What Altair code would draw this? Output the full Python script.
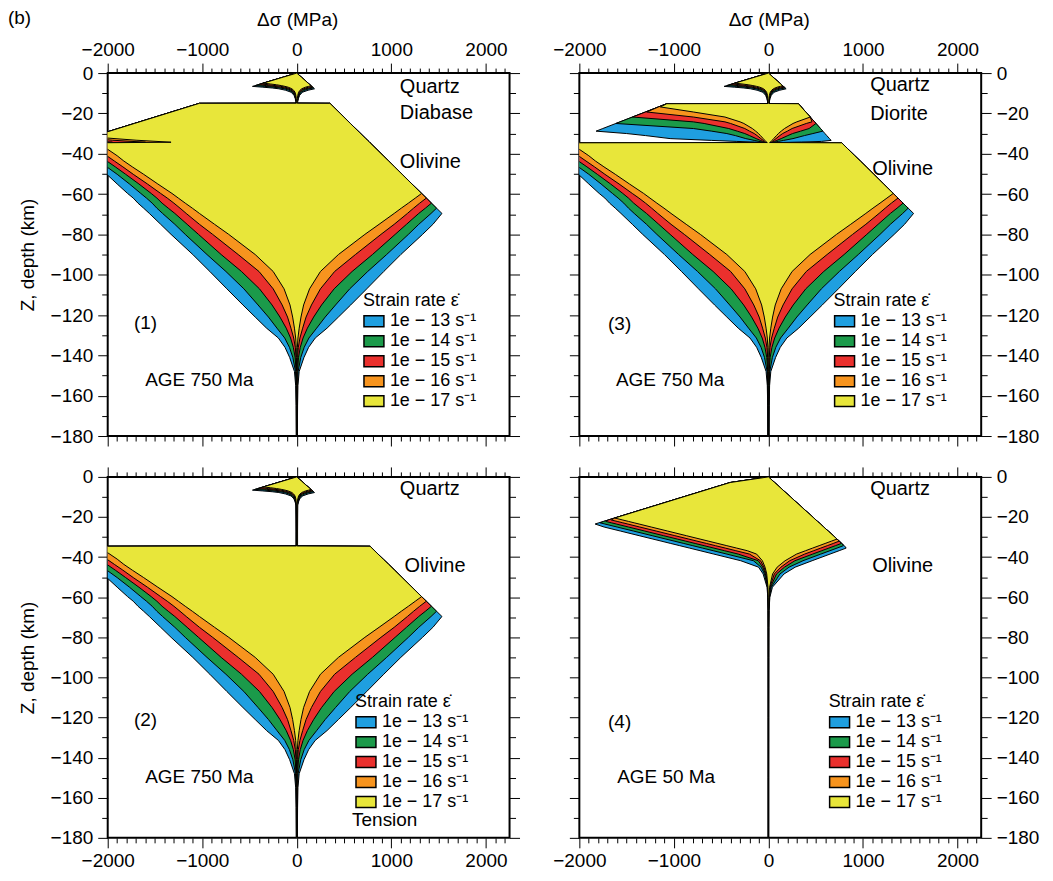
import altair as alt
import pandas as pd

FONT = "Liberation Sans"

RATES = ["1e − 13 s⁻¹", "1e − 14 s⁻¹", "1e − 15 s⁻¹", "1e − 16 s⁻¹", "1e − 17 s⁻¹"]
COLORS = ["#1f9fe0", "#1b9a4a", "#ea302d", "#f7941e", "#e8e63a"]

# ---------------- quartz upper crust, 750 Ma (panels 1-3) ----------------
Q_Z = [0, -2, -4, -5.0, -5.4, -5.8, -6.2, -6.6, -7.0, -7.4, -7.8, -8.5, -9.5, -11, -12.5, -14]
Q_LEFT = [
    [0, -142, -284, -355, -383, -412, -440, -469, -360, -260, -190, -120, -60, -30, -18, -10],
    [0, -142, -284, -355, -383, -412, -440, -340, -250, -180, -130, -85, -45, -24, -14, -8],
    [0, -142, -284, -355, -383, -412, -320, -240, -175, -130, -95, -60, -33, -18, -11, -6],
    [0, -142, -284, -355, -383, -300, -230, -170, -125, -95, -70, -45, -25, -14, -8, -5],
    [0, -142, -284, -355, -280, -215, -165, -125, -92, -70, -52, -34, -19, -10, -6, -4]]
Q_RIGHT = [
    [0, 48, 96, 120, 130, 139, 149, 158, 168, 178, 187, 120, 60, 30, 18, 10],
    [0, 48, 96, 120, 130, 139, 149, 158, 168, 178, 130, 85, 45, 24, 14, 8],
    [0, 48, 96, 120, 130, 139, 149, 158, 168, 130, 95, 60, 33, 18, 11, 6],
    [0, 48, 96, 120, 130, 139, 149, 158, 125, 95, 70, 45, 25, 14, 8, 5],
    [0, 48, 96, 120, 130, 139, 149, 125, 92, 70, 52, 34, 19, 10, 6, 4]]

# ---------------- diabase lower crust (panel 1) ----------------
D1_Z = [-14.95, -15, -20, -25, -29.6, -32.2, -33.3, -34.3]
D1_LEFT = [
    [-8, -1030, -1374, -1718, -2034, -2212, -2288, -2356],
    [-7, -1030, -1374, -1718, -2034, -2212, -2288, -2300],
    [-6, -1030, -1374, -1718, -2034, -2212, -2250, -1950],
    [-5, -1030, -1374, -1718, -2034, -2212, -1950, -1600],
    [-4, -1030, -1374, -1718, -2034, -2010, -1700, -1330]]
D1_RIGHT = [
    [8, 350, 459, 567, 667, 723, 747, 769],
    [7, 350, 459, 567, 667, 723, 747, 769],
    [6, 350, 459, 567, 667, 723, 747, 769],
    [5, 350, 459, 567, 667, 723, 747, 769],
    [4, 350, 459, 567, 667, 723, 747, 769]]

# ---------------- quartz-only crust stem (panel 2) ----------------
S2_Z = [-20, -27, -34.45]
S2_LEFT = [[-9, -8, -8], [-7, -6, -6], [-5, -5, -5], [-4, -4, -4], [-3, -3, -3]]
S2_RIGHT = [[9, 8, 8], [7, 6, 6], [5, 5, 5], [4, 4, 4], [3, 3, 3]]

# ---------------- diorite lower crust (panel 3) ----------------
C3_Z = [-15.1, -15.2, -16.8, -19.3, -21.8, -24.2, -25, -27.5, -28.8, -30, -31, -32.5, -33.4, -33.9, -34.2, -34.45]
C3_LEFT = [
    [-8, -1075, -1163, -1300, -1438, -1570, -1614, -1752, -1823, -1500, -1300, -1040, -600, -334, -150, -60],
    [-7, -1075, -1163, -1300, -1438, -1570, -1614, -794, -600, -440, -350, -240, -150, -100, -65, -40],
    [-6, -1075, -1163, -1300, -1438, -794, -680, -420, -330, -250, -200, -130, -85, -60, -40, -25],
    [-5, -1075, -1163, -1287, -794, -460, -400, -250, -200, -150, -120, -80, -55, -40, -28, -18],
    [-4, -1075, -1143, -794, -460, -300, -260, -170, -135, -105, -85, -55, -38, -28, -20, -12]]
C3_RIGHT = [
    [8, 317, 347, 395, 442, 488, 503, 551, 575, 598, 617, 646, 663, 560, 350, 120],
    [7, 317, 347, 395, 442, 488, 503, 551, 575, 470, 380, 260, 160, 105, 68, 40],
    [6, 317, 347, 395, 442, 488, 503, 430, 340, 255, 205, 135, 88, 62, 42, 25],
    [5, 317, 347, 395, 442, 460, 400, 250, 200, 150, 120, 80, 55, 40, 28, 18],
    [4, 317, 347, 395, 442, 300, 260, 170, 135, 105, 85, 55, 38, 28, 20, 12]]

# ---------------- olivine mantle, 750 Ma (panels 1-3) ----------------
M_Z = [-34.6, -37.5, -41, -43.6, -46.5, -50.2, -55, -59.7, -62, -64.5, -67, -69.6, -75, -80, -90,
       -98.4, -107, -115, -121, -126.5, -131.4, -136, -141, -148, -155, -165, -180]
M_LEFT = [
    [-2377, -2420, -2300, -2210, -2110, -2010, -1900, -1790, -1730, -1680, -1620, -1560, -1440, -1330, -1100,
     -920, -740, -570, -440, -320, -195, -125, -76, -25, -12, -8, -6],
    [-2377, -2320, -2200, -2100, -2010, -1900, -1770, -1650, -1590, -1530, -1480, -1420, -1290, -1180, -950,
     -750, -560, -410, -300, -210, -128, -78, -42, -14, -7, -5, -4],
    [-2330, -2220, -2100, -2010, -1920, -1810, -1670, -1540, -1480, -1425, -1360, -1290, -1160, -1040, -800,
     -585, -395, -262, -178, -112, -66, -37, -18, -7, -4, -3, -3],
    [-2250, -2120, -2010, -1930, -1840, -1730, -1580, -1440, -1370, -1300, -1235, -1170, -1030, -890, -620,
     -400, -250, -155, -98, -62, -33, -16, -8, -4, -3, -2.5, -2.5],
    [-2150, -2010, -1900, -1830, -1740, -1620, -1470, -1320, -1253, -1180, -1105, -1030, -870, -720, -440,
     -250, -135, -72, -44, -25, -12, -6, -4, -3, -2.5, -2, -2]]
M_RIGHT = [
    [775, 838, 914, 971, 1034, 1114, 1218, 1320, 1370, 1424, 1478, 1535, 1440, 1330, 1100,
     920, 740, 570, 440, 320, 195, 125, 76, 25, 12, 8, 6],
    [775, 838, 914, 971, 1034, 1114, 1218, 1320, 1370, 1424, 1478, 1420, 1290, 1180, 950,
     750, 560, 410, 300, 210, 128, 78, 42, 14, 7, 5, 4],
    [775, 838, 914, 971, 1034, 1114, 1218, 1320, 1370, 1424, 1360, 1290, 1160, 1040, 800,
     585, 395, 262, 178, 112, 66, 37, 18, 7, 4, 3, 3],
    [775, 838, 914, 971, 1034, 1114, 1218, 1320, 1370, 1300, 1235, 1170, 1030, 890, 620,
     400, 250, 155, 98, 62, 33, 16, 8, 4, 3, 2.5, 2.5],
    [775, 838, 914, 971, 1034, 1114, 1218, 1320, 1253, 1180, 1105, 1030, 870, 720, 440,
     250, 135, 72, 44, 25, 12, 6, 4, 3, 2.5, 2, 2]]

# ---------------- whole column, 50 Ma (panel 4) ----------------
P4_Z = [0, -2.8, -10, -20.5, -21.5, -22.2, -22.9, -23.5, -25, -27, -29.3, -31, -32, -33.2, -34.3, -35.5,
        -36.8, -38.5, -41.8, -45, -48.4, -55, -60, -66.6, -75, -90, -120, -150, -180]
P4_LEFT = [
    [0, -405, -902, -1626, -1695, -1744, -1794, -1833, -1738, -1566, -1368, -1222, -1136, -1033, -938, -835,
     -723, -577, -293, -105, -56, -15, -7, -3.5, -3.2, -3, -3, -3, -3],
    [0, -405, -902, -1626, -1695, -1744, -1780, -1730, -1600, -1428, -1230, -1084, -998, -895, -800, -697,
     -585, -439, -159, -78, -42, -11, -5.5, -3, -2.5, -2.2, -2, -2, -2],
    [0, -405, -902, -1626, -1695, -1720, -1661, -1609, -1480, -1308, -1110, -964, -878, -775, -680, -577,
     -465, -319, -108, -60, -32, -8.5, -4.5, -2.6, -2.2, -1.8, -1.5, -1.5, -1.5],
    [0, -405, -902, -1626, -1661, -1600, -1540, -1488, -1360, -1187, -990, -843, -757, -654, -560, -456,
     -345, -200, -84, -47, -25, -6.5, -3.5, -2.2, -1.8, -1.5, -1.2, -1.2, -1.2],
    [0, -405, -902, -1626, -1540, -1480, -1420, -1368, -1239, -1067, -869, -723, -637, -534, -440, -336,
     -224, -125, -64, -36, -18, -5, -3, -2, -1.5, -1.2, -1, -1, -1]]
P4_RIGHT = [
    [0, 66, 234, 480, 503, 519, 536, 550, 585, 632, 686, 725, 749, 777, 803, 822,
     748, 651, 462, 283, 165, 42, 15, 6, 4, 3.5, 3, 3, 3],
    [0, 66, 234, 480, 503, 519, 536, 550, 585, 632, 686, 725, 749, 777, 793, 725,
     651, 553, 365, 218, 122, 30, 11, 4.5, 3, 2.5, 2, 1.8, 1.8],
    [0, 66, 234, 480, 503, 519, 536, 550, 585, 632, 686, 725, 749, 771, 708, 639,
     564, 467, 280, 170, 85, 22, 8, 3.5, 2.5, 2, 1.6, 1.4, 1.4],
    [0, 66, 234, 480, 503, 519, 536, 550, 585, 632, 686, 725, 749, 685, 622, 553,
     479, 382, 225, 132, 62, 15, 6, 3, 2.2, 1.7, 1.4, 1.2, 1.2],
    [0, 66, 234, 480, 503, 519, 536, 550, 585, 632, 686, 725, 668, 599, 536, 467,
     393, 297, 176, 92, 44, 12, 5, 2.5, 2, 1.5, 1.2, 1, 1]]

# ---------------- annotations (data units) ----------------
ANN1 = {"t": ["Quartz", "Diabase", "Olivine"], "x": [1090, 1090, 1090], "y": [-6.9, -19.6, -44]}
ANN2 = {"t": ["Quartz", "Olivine"], "x": [1090, 1140], "y": [-6, -44.3]}
ANN3 = {"t": ["Quartz", "Diorite", "Olivine"], "x": [1076, 1076, 1097], "y": [-5.9, -20.3, -47.5]}
ANN4 = {"t": ["Quartz", "Olivine"], "x": [1076, 1097], "y": [-6, -44.3]}
CEN1 = {"t": ["(1)", "AGE 750 Ma"], "x": [-1600, -1030], "y": [-124, -152.3]}
CEN2 = {"t": ["(2)", "AGE 750 Ma", "Tension"], "x": [-1600, -1030, 930], "y": [-121.3, -149.7, -171.3]}
CEN3 = {"t": ["(3)", "AGE 750 Ma"], "x": [-1574, -1040], "y": [-124.6, -152]}
CEN4 = {"t": ["(4)", "AGE 50 Ma"], "x": [-1574, -1082], "y": [-122.3, -149.7]}

XTICKS = list(range(-2000, 2201, 100))
YTICKS = list(range(-180, 1, 10))
XMIN, XMAX = -2000, 2250
W = 403

xs = alt.Scale(domain=[XMIN, XMAX], nice=False, zero=False)
ys = alt.Scale(domain=[-180, 0], nice=False, zero=False)
cs = alt.Scale(domain=RATES, range=COLORS)


def build(blocks):
    frames = []
    for i, rate in enumerate(RATES):
        z, lo, hi = [], [], []
        for bz, bl, br in blocks:
            z += list(bz)
            lo += list(bl[i])
            hi += list(br[i])
        frames.append(pd.DataFrame({"z": z, "lo": lo, "hi": hi, "rate": rate}))
    return frames


def xaxis(orient, labeled, title=False):
    kw = dict(orient=orient, values=XTICKS, domain=False, grid=False,
              tickSize={"condition": {"test": "datum.value % 1000 === 0", "value": 10}, "value": 5},
              tickColor="black", tickWidth=1)
    if labeled:
        kw.update(labelExpr="datum.value % 1000 === 0 ? datum.label : ''", format="d",
                  labelFont=FONT, labelFontSize=19, labelColor="black", labelPadding=4,
                  labelOverlap=False, labelFlush=False)
    else:
        kw.update(labels=False)
    if title:
        kw.update(title="Δσ (MPa)", titleFont=FONT, titleFontSize=19, titleFontWeight="normal",
                  titleColor="black", titleX=190, titleY=-54, titleAlign="center",
                  titleBaseline="middle", titleAngle=0)
    else:
        kw.update(title=None)
    return alt.Axis(**kw)


def yaxis(orient, labeled, h, title=False):
    kw = dict(orient=orient, values=YTICKS, domain=False, grid=False,
              tickSize={"condition": {"test": "datum.value % 20 === 0", "value": 10}, "value": 6},
              tickColor="black", tickWidth=1)
    if labeled:
        kw.update(labelExpr="datum.value % 20 === 0 ? datum.label : ''", format="d",
                  labelFont=FONT, labelFontSize=19, labelColor="black", labelPadding=5,
                  labelOverlap=False, labelFlush=False)
    else:
        kw.update(labels=False)
    if title:
        kw.update(title="Z, depth (km)", titleFont=FONT, titleFontSize=19, titleFontWeight="normal",
                  titleColor="black", titleX=-80, titleY=h / 2, titleAlign="center",
                  titleBaseline="middle", titleAngle=270)
    else:
        kw.update(title=None)
    return alt.Axis(**kw)


def panel(blocks, ann_left, ann_center, legend_xy, top, left, h):
    leg = alt.Legend(title="Strain rate ε̇", orient="none", legendX=legend_xy[0], legendY=legend_xy[1],
                     titleFont=FONT, titleFontSize=18, titleFontWeight="normal", titleColor="black",
                     titlePadding=0, labelFont=FONT, labelFontSize=18, labelColor="black",
                     labelOffset=5, labelLimit=300, symbolType="M-1,-0.55H1V0.55H-1Z", symbolSize=400,
                     symbolStrokeColor="black", symbolStrokeWidth=1.5, symbolOpacity=1,
                     rowPadding=-0.4, padding=0, direction="vertical")
    layers = []
    for df in build(blocks):
        layers.append(
            alt.Chart(df).mark_area(orient="horizontal", stroke="black", strokeWidth=1, clip=True,
                                    opacity=1, interpolate="linear").encode(
                y=alt.Y("z:Q", scale=ys, axis=None),
                x=alt.X("lo:Q", scale=xs, axis=None),
                x2="hi:Q",
                color=alt.Color("rate:N", scale=cs, legend=leg),
            ))
    tl = alt.Chart(pd.DataFrame(ann_left)).mark_text(font=FONT, fontSize=20, align="left",
                                                      baseline="middle", color="black").encode(
        x=alt.X("x:Q", scale=xs, axis=None), y=alt.Y("y:Q", scale=ys, axis=None), text="t:N")
    tc = alt.Chart(pd.DataFrame(ann_center)).mark_text(font=FONT, fontSize=19, align="center",
                                                        baseline="middle", color="black").encode(
        x=alt.X("x:Q", scale=xs, axis=None), y=alt.Y("y:Q", scale=ys, axis=None), text="t:N")
    base = alt.Chart(pd.DataFrame({"x": [0.0], "y": [-90.0]})).mark_point(opacity=0)
    ax1 = base.encode(
        x=alt.X("x:Q", scale=xs, axis=xaxis("top", top, title=top)),
        y=alt.Y("y:Q", scale=ys, axis=yaxis("left", left, h, title=left)))
    ax2 = base.encode(
        x=alt.X("x:Q", scale=xs, axis=xaxis("bottom", not top)),
        y=alt.Y("y:Q", scale=ys, axis=yaxis("right", not left, h)))
    return alt.layer(*layers, tl, tc, ax1, ax2).resolve_axis(
        x="independent", y="independent").properties(width=W, height=h)


p1 = panel([(Q_Z, Q_LEFT, Q_RIGHT), (D1_Z, D1_LEFT, D1_RIGHT), (M_Z, M_LEFT, M_RIGHT)],
           ANN1, CEN1, (256, 220), True, True, 364)
p3 = panel([(Q_Z, Q_LEFT, Q_RIGHT), (C3_Z, C3_LEFT, C3_RIGHT), (M_Z, M_LEFT, M_RIGHT)],
           ANN3, CEN3, (255, 220), True, False, 364)
p2 = panel([(Q_Z, Q_LEFT, Q_RIGHT), (S2_Z, S2_LEFT, S2_RIGHT), (M_Z, M_LEFT, M_RIGHT)],
           ANN2, CEN2, (248, 217), False, True, 362)
p4 = panel([(P4_Z, P4_LEFT, P4_RIGHT)], ANN4, CEN4, (250, 217), False, False, 362)

chart = alt.concat(p1, p3, p2, p4, columns=2, spacing={"row": 41, "column": 70}, bounds="flush",
                   title=alt.TitleParams(text="(b)", anchor="start", frame="bounds", font=FONT,
                                         fontSize=19, fontWeight="normal", color="black",
                                         offset=-19, dx=-10)
                   ).resolve_legend(color="independent").properties(
    padding={"left": 0, "top": 0, "right": 5, "bottom": 5}
).configure_view(stroke="black", strokeWidth=2)

chart.save("out.html", embed_options={"renderer": "svg", "actions": False})
